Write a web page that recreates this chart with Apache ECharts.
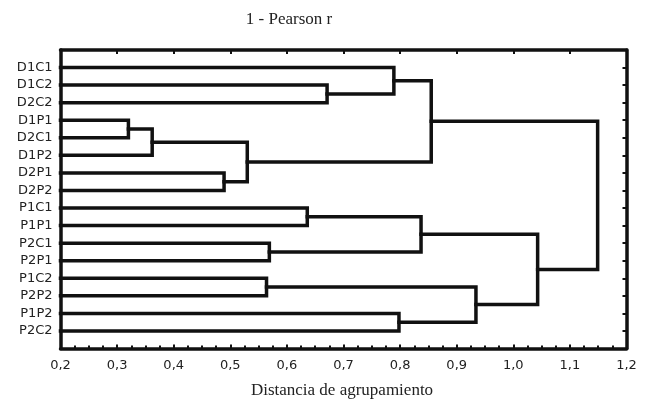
<!DOCTYPE html>
<html><head><meta charset="utf-8">
<script src="https://cdn.jsdelivr.net/npm/echarts@6/dist/echarts.min.js"></script>
<style>html,body{margin:0;padding:0;background:#fff}#c{width:650px;height:401px}</style>
</head><body><div id="c"></div>
<script>
// Leaves (top to bottom)
const leaves = ['D1C1','D1C2','D2C2','D1P1','D2C1','D1P2','D2P1','D2P2','P1C1','P1P1','P2C1','P2P1','P1C2','P2P2','P1P2','P2C2'];
// Linkage: node ids 0..15 are leaves, merge k creates node 16+k
const mergeLeft   = [3, 16, 6, 17, 12, 10, 8, 1, 0, 14, 22, 24, 20, 26, 27];
const mergeRight  = [4, 5, 7, 18, 13, 11, 9, 2, 23, 15, 21, 19, 25, 28, 29];
const mergeHeight = [0.320, 0.362, 0.489, 0.530, 0.564, 0.569, 0.636, 0.671, 0.789, 0.798, 0.837, 0.855, 0.934, 1.043, 1.149];
const xMin = 0.2, xMax = 1.2, xStep = 0.1;
const titleText = '1 - Pearson r';
const xName = 'Distancia de agrupamiento';

const nodeY = leaves.map((_, i) => i);
const nodeH = leaves.map(() => xMin);
const links = [];
mergeHeight.forEach((h, k) => {
  const l = mergeLeft[k], r = mergeRight[k];
  links.push([nodeH[l], nodeY[l], nodeH[r], nodeY[r], h]);
  nodeY.push((nodeY[l] + nodeY[r]) / 2);
  nodeH.push(h);
});

const ink = '#111';
const sans = 'DejaVu Sans';
const serif = 'Liberation Serif';
const chart = echarts.init(document.getElementById('c'));
const baseX = {
  type: 'value', min: xMin, max: xMax, interval: xStep,
  splitLine: {show: false},
  axisLine: {show: true, onZero: false, lineStyle: {color: ink, width: 3.5}}
};
const baseY = {
  type: 'value', min: -1, max: leaves.length, interval: 1, inverse: true,
  splitLine: {show: false},
  axisLine: {show: true, onZero: false, lineStyle: {color: ink, width: 3.5}}
};
chart.setOption({
  animation: false,
  backgroundColor: '#fff',
  grid: {left: 60.5, right: 23.5, top: 50, bottom: 52.5, containLabel: false},
  xAxis: [
    Object.assign({}, baseX, {
      position: 'bottom',
      axisTick: {show: true, inside: true, length: 4, lineStyle: {color: ink, width: 2}},
      minorTick: {show: true, splitNumber: 4, length: 3, lineStyle: {color: ink, width: 2}},
      axisLabel: {show: true, margin: 11, color: '#222', fontFamily: sans, fontSize: 13,
        formatter: v => v.toFixed(1).replace('.', ',')}
    }),
    Object.assign({}, baseX, {
      position: 'top',
      axisTick: {show: true, inside: true, length: 4, lineStyle: {color: ink, width: 2}},
      axisLabel: {show: false}
    })
  ],
  yAxis: [
    Object.assign({}, baseY, {
      position: 'left',
      axisTick: {show: false},
      axisLabel: {show: true, margin: 8, color: '#222', fontFamily: sans, fontSize: 13,
        formatter: v => (leaves[Math.round(v)] !== undefined && Math.abs(v - Math.round(v)) < 1e-6) ? leaves[Math.round(v)] : ''}
    }),
    Object.assign({}, baseY, {
      position: 'right',
      axisTick: {show: true, inside: true, length: 4, lineStyle: {color: ink, width: 2}},
      axisLabel: {show: false}
    })
  ],
  graphic: [
    {type: 'text', x: 289, y: 20, style: {text: titleText, font: '17px "' + serif + '"', fill: '#222', textAlign: 'center', textVerticalAlign: 'middle'}},
    {type: 'text', x: 342, y: 391, style: {text: xName, font: '17px "' + serif + '"', fill: '#222', textAlign: 'center', textVerticalAlign: 'middle'}}
  ],
  series: [{
    type: 'custom',
    xAxisIndex: 0, yAxisIndex: 0,
    data: links,
    encode: {x: [0, 2, 4], y: [1, 3]},
    clip: false,
    renderItem: function (params, api) {
      const hl = api.value(0), yl = api.value(1), hr = api.value(2), yr = api.value(3), h = api.value(4);
      const pts = [api.coord([hl, yl]), api.coord([h, yl]), api.coord([h, yr]), api.coord([hr, yr])];
      return {type: 'polyline', shape: {points: pts},
        style: {stroke: ink, lineWidth: 3.5, fill: null, lineJoin: 'miter', lineCap: 'square'}};
    }
  }]
});
</script></body></html>
